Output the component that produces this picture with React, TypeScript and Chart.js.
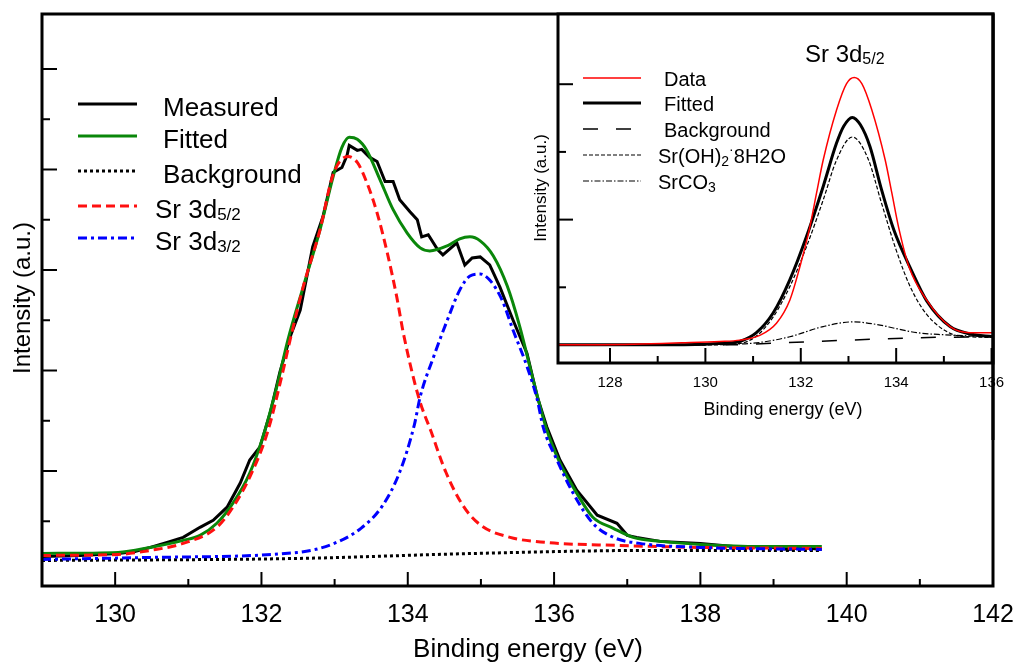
import React, { useEffect, useRef } from "react";
import { Chart, registerables } from "chart.js";

Chart.register(...registerables);

const FONT = "'Liberation Sans', Arial, sans-serif";

// ---------------- Main chart data (binding energy eV, intensity a.u.) ----------------
const measuredE = [129.0, 129.52, 130.04, 130.27, 130.48, 130.71, 130.93, 131.16, 131.34, 131.53, 131.71, 131.84, 131.98, 132.12, 132.25, 132.39, 132.53, 132.70, 132.84, 132.98, 133.10, 133.17, 133.20, 133.31, 133.37, 133.48, 133.58, 133.69, 133.80, 133.89, 134.03, 134.13, 134.19, 134.28, 134.41, 134.48, 134.67, 134.78, 134.88, 134.99, 135.12, 135.26, 135.44, 135.63, 135.77, 135.90, 136.08, 136.31, 136.59, 136.86, 137.00, 137.13, 137.45, 138.00, 138.30, 138.60, 138.90, 139.20, 139.40, 139.66];
const measuredI = [-0.85, -0.84, -0.82, -0.80, -0.76, -0.71, -0.66, -0.56, -0.49, -0.36, -0.12, 0.11, 0.24, 0.58, 0.98, 1.33, 1.60, 2.23, 2.53, 2.97, 3.02, 3.14, 3.24, 3.19, 3.20, 3.12, 3.08, 2.88, 2.88, 2.70, 2.58, 2.50, 2.33, 2.35, 2.20, 2.15, 2.27, 2.05, 2.12, 2.13, 2.05, 1.83, 1.50, 1.17, 0.74, 0.44, 0.11, -0.19, -0.44, -0.52, -0.64, -0.66, -0.70, -0.72, -0.74, -0.76, -0.75, -0.78, -0.76, -0.78];

const fittedE = [129.0, 130.04, 130.48, 130.93, 131.16, 131.39, 131.61, 131.84, 132.02, 132.21, 132.36, 132.57, 132.80, 132.98, 133.10, 133.20, 133.31, 133.44, 133.62, 133.80, 133.99, 134.17, 134.30, 134.54, 134.71, 134.85, 134.99, 135.17, 135.36, 135.53, 135.71, 135.90, 136.08, 136.31, 136.53, 136.81, 137.08, 137.45, 138.00, 138.82, 139.66];
const fittedI = [-0.82, -0.81, -0.76, -0.69, -0.64, -0.52, -0.32, -0.02, 0.34, 0.84, 1.30, 1.83, 2.40, 2.93, 3.22, 3.32, 3.30, 3.19, 2.90, 2.60, 2.37, 2.22, 2.19, 2.24, 2.31, 2.33, 2.29, 2.14, 1.84, 1.44, 0.92, 0.41, 0.08, -0.22, -0.46, -0.57, -0.66, -0.70, -0.73, -0.75, -0.75];

const sr52E = [129.0, 130.04, 130.48, 130.93, 131.39, 131.61, 131.84, 132.08, 132.29, 132.39, 132.57, 132.80, 132.98, 133.18, 133.31, 133.44, 133.58, 133.72, 133.85, 133.94, 134.15, 134.32, 134.52, 134.76, 135.00, 135.40, 135.88, 136.85, 138.00, 139.66];
const sr52I = [-0.84, -0.83, -0.79, -0.72, -0.56, -0.36, -0.06, 0.38, 0.98, 1.30, 1.83, 2.40, 2.95, 3.13, 3.07, 2.87, 2.57, 2.17, 1.73, 1.37, 0.73, 0.39, -0.01, -0.35, -0.54, -0.66, -0.71, -0.74, -0.76, -0.77];

const sr32E = [129.0, 130.48, 132.49, 132.96, 133.36, 133.65, 133.89, 134.09, 134.17, 134.35, 134.54, 134.71, 134.85, 134.99, 135.12, 135.29, 135.44, 135.63, 135.77, 135.85, 136.04, 136.26, 136.53, 136.81, 137.17, 138.00, 139.66];
const sr32I = [-0.88, -0.86, -0.81, -0.73, -0.57, -0.35, -0.01, 0.46, 0.74, 1.13, 1.50, 1.80, 1.94, 1.96, 1.90, 1.70, 1.40, 1.04, 0.71, 0.44, 0.11, -0.22, -0.52, -0.66, -0.72, -0.76, -0.78];

const backgroundE = [129.0, 132.49, 134.91, 137.33, 139.66];
const backgroundI = [-0.89, -0.87, -0.82, -0.79, -0.79];

const mainXMajor = [130, 132, 134, 136, 138, 140, 142];
const mainXMinor = [129, 131, 133, 135, 137, 139, 141];
const mainYMajor = [0, 1, 2, 3, 4];
const mainYMinor = [-0.5, 0.5, 1.5, 2.5, 3.5];

const mainLegendText = ["Measured", "Fitted", "Background", "Sr 3d", "Sr 3d"];
const mainLegendSub = ["", "", "", "5/2", "3/2"];

// ---------------- Inset data ----------------
const insetDataE = [126.91, 128.5, 129.5, 130.3, 130.72, 131.14, 131.49, 131.77, 131.98, 132.19, 132.33, 132.47, 132.75, 132.96, 133.12, 133.28, 133.49, 133.77, 133.91, 134.05, 134.27, 134.64, 135.13, 135.55, 136.03];
const insetDataI = [0.15, 0.16, 0.18, 0.20, 0.22, 0.29, 0.47, 0.81, 1.30, 1.89, 2.39, 2.88, 3.62, 4.01, 4.10, 4.01, 3.62, 2.88, 2.39, 1.89, 1.30, 0.81, 0.42, 0.33, 0.33];

const insetFitE = [126.91, 129.0, 130.0, 130.5, 130.72, 131.07, 131.42, 131.77, 132.12, 132.47, 132.75, 132.9, 133.08, 133.25, 133.45, 133.69, 133.95, 134.32, 134.64, 135.13, 135.55, 136.03];
const insetFitI = [0.15, 0.15, 0.16, 0.18, 0.20, 0.33, 0.62, 1.11, 1.75, 2.49, 3.13, 3.38, 3.51, 3.40, 3.08, 2.45, 1.85, 1.25, 0.80, 0.42, 0.31, 0.27];

const insetOHE = [126.91, 130.0, 130.72, 131.07, 131.42, 131.77, 132.12, 132.47, 132.75, 133.08, 133.41, 133.69, 134.0, 134.3, 134.64, 135.13, 135.55, 136.03];
const insetOHI = [0.15, 0.15, 0.17, 0.28, 0.56, 1.01, 1.60, 2.29, 2.88, 3.22, 2.90, 2.25, 1.55, 1.00, 0.60, 0.32, 0.27, 0.26];

const insetCO3E = [126.91, 130.3, 131.07, 131.77, 132.47, 133.1, 133.6, 134.0, 134.43, 134.98, 136.03];
const insetCO3I = [0.15, 0.16, 0.18, 0.27, 0.42, 0.49, 0.45, 0.39, 0.33, 0.30, 0.27];

const insetBgE = [126.91, 130.5, 130.93, 131.63, 133.03, 134.43, 136.03];
const insetBgI = [0.15, 0.15, 0.16, 0.18, 0.22, 0.255, 0.27];

const insetXMajor = [128, 130, 132, 134, 136];
const insetXMinor = [129, 131, 133, 135];
const insetYMajor = [2, 4];
const insetYMinor = [1, 3];

const pts = (xs: number[], ys: number[]) => xs.map((x, i) => ({ x, y: ys[i] }));

type Seg = { t: string; size: number; dy?: number };
function drawSegs(ctx: CanvasRenderingContext2D, x: number, y: number, segs: Seg[]) {
  let cx = x;
  ctx.textAlign = "left";
  ctx.textBaseline = "alphabetic";
  for (const s of segs) {
    ctx.font = `${s.size}px ${FONT}`;
    ctx.fillText(s.t, cx, y + (s.dy || 0));
    cx += ctx.measureText(s.t).width;
  }
}

function seg(ctx: CanvasRenderingContext2D, x1: number, y1: number, x2: number, y2: number) {
  ctx.beginPath();
  ctx.moveTo(x1, y1);
  ctx.lineTo(x2, y2);
  ctx.stroke();
}

const mainStyles = [
  { color: "#000000", dash: [] as number[], width: 3 },
  { color: "#0a870a", dash: [] as number[], width: 3 },
  { color: "#000000", dash: [3, 3], width: 3 },
  { color: "#ff1010", dash: [9, 5], width: 3 },
  { color: "#0000ff", dash: [9, 4, 3, 4], width: 3 },
];

const insetStyles = [
  { color: "#ff0000", dash: [] as number[], width: 1.5 },
  { color: "#000000", dash: [] as number[], width: 3 },
  { color: "#000000", dash: [15, 18], width: 1.5 },
  { color: "#000000", dash: [4, 2], width: 1.2 },
  { color: "#000000", dash: [6, 2, 1.5, 2], width: 1.2 },
];

const mainDecor = {
  id: "mainDecor",
  afterDraw(chart: any) {
    const { ctx, chartArea: a, scales } = chart;
    const x = scales.x, y = scales.y;
    ctx.save();
    ctx.strokeStyle = "#000";
    ctx.setLineDash([]);
    ctx.lineWidth = 2;
    for (const t of mainXMajor) { const p = x.getPixelForValue(t); seg(ctx, p, a.bottom, p, a.bottom - 14); }
    for (const t of mainXMinor) { const p = x.getPixelForValue(t); seg(ctx, p, a.bottom, p, a.bottom - 7); }
    for (const t of mainYMajor) { const p = y.getPixelForValue(t); seg(ctx, a.left, p, a.left + 15, p); }
    for (const t of mainYMinor) { const p = y.getPixelForValue(t); seg(ctx, a.left, p, a.left + 8, p); }
    ctx.lineWidth = 3;
    ctx.strokeRect(a.left, a.top, a.right - a.left, a.bottom - a.top);

    ctx.fillStyle = "#000";
    ctx.font = `25px ${FONT}`;
    ctx.textAlign = "center";
    ctx.textBaseline = "middle";
    for (const t of mainXMajor) ctx.fillText(String(t), x.getPixelForValue(t), 615);
    ctx.font = `26px ${FONT}`;
    ctx.fillText("Binding energy (eV)", 528, 650);
    ctx.save();
    ctx.translate(23, 298);
    ctx.rotate(-Math.PI / 2);
    ctx.font = `24px ${FONT}`;
    ctx.fillText("Intensity (a.u.)", 0, 0);
    ctx.restore();

    // legend
    const baselines = [116, 148, 183, 218, 250];
    mainLegendText.forEach((txt, i) => {
      const st = mainStyles[i];
      const ly = baselines[i] - 12;
      ctx.strokeStyle = st.color;
      ctx.lineWidth = st.width;
      ctx.setLineDash(st.dash);
      seg(ctx, 78, ly, 137, ly);
      ctx.setLineDash([]);
      ctx.fillStyle = "#000";
      const segs: Seg[] = [{ t: txt, size: 26 }];
      if (mainLegendSub[i]) segs.push({ t: mainLegendSub[i], size: 17, dy: 2 });
      drawSegs(ctx, mainLegendSub[i] ? 155 : 163, baselines[i], segs);
    });
    ctx.restore();
  },
};

const insetLegendRows: Seg[][] = [
  [{ t: "Data", size: 20 }],
  [{ t: "Fitted", size: 20 }],
  [{ t: "Background", size: 20 }],
  [{ t: "Sr(OH)", size: 20 }, { t: "2", size: 14, dy: 3 }, { t: "·", size: 14, dy: -9 }, { t: "8H2O", size: 20 }],
  [{ t: "SrCO", size: 20 }, { t: "3", size: 14, dy: 3 }],
];

const insetDecor = {
  id: "insetDecor",
  beforeDraw(chart: any) {
    const { ctx, chartArea: a } = chart;
    ctx.save();
    ctx.fillStyle = "#fff";
    ctx.fillRect(a.left, a.top, a.right - a.left, a.bottom - a.top);
    ctx.restore();
  },
  afterDraw(chart: any) {
    const { ctx, chartArea: a, scales } = chart;
    const x = scales.x, y = scales.y;
    ctx.save();
    ctx.strokeStyle = "#000";
    ctx.setLineDash([]);
    ctx.lineWidth = 2;
    for (const t of insetXMajor) { const p = x.getPixelForValue(t); seg(ctx, p, a.bottom, p, a.bottom - 15); }
    for (const t of insetXMinor) { const p = x.getPixelForValue(t); seg(ctx, p, a.bottom, p, a.bottom - 7); }
    for (const t of insetYMajor) { const p = y.getPixelForValue(t); seg(ctx, a.left, p, a.left + 15, p); }
    for (const t of insetYMinor) { const p = y.getPixelForValue(t); seg(ctx, a.left, p, a.left + 8, p); }

    ctx.fillStyle = "#000";
    ctx.font = `15px ${FONT}`;
    ctx.textAlign = "center";
    ctx.textBaseline = "middle";
    for (const t of insetXMajor) ctx.fillText(String(t), x.getPixelForValue(t), 383);
    ctx.font = `18px ${FONT}`;
    ctx.fillText("Binding energy (eV)", 283, 410);
    ctx.save();
    ctx.translate(41, 188);
    ctx.rotate(-Math.PI / 2);
    ctx.font = `17px ${FONT}`;
    ctx.fillText("Intensity (a.u.)", 0, 0);
    ctx.restore();

    ctx.lineWidth = 3;
    ctx.strokeRect(a.left, a.top, a.right - a.left, a.bottom - a.top);
    seg(ctx, a.right, a.top, a.right, chart.height);

    // title
    ctx.fillStyle = "#000";
    drawSegs(ctx, 305, 62, [{ t: "Sr 3d", size: 24 }, { t: "5/2", size: 16, dy: 2 }]);

    // legend
    const baselines = [86, 111, 137, 163, 189];
    insetLegendRows.forEach((row, i) => {
      const st = insetStyles[i];
      const ly = baselines[i] - 8;
      ctx.strokeStyle = st.color;
      ctx.lineWidth = st.width;
      ctx.setLineDash(st.dash);
      seg(ctx, 83, ly, 141, ly);
      ctx.setLineDash([]);
      ctx.fillStyle = "#000";
      drawSegs(ctx, i < 3 ? 164 : 158, baselines[i], row);
    });
    ctx.restore();
  },
};

function ds(label: string, data: any[], st: any, order: number, smooth: boolean) {
  return {
    label,
    data,
    borderColor: st.color,
    backgroundColor: st.color,
    borderWidth: st.width,
    borderDash: st.dash,
    borderCapStyle: "butt",
    pointRadius: 0,
    fill: false,
    tension: 0,
    cubicInterpolationMode: smooth ? "monotone" : "default",
    order,
  };
}

export default function App() {
  const mainRef = useRef<HTMLCanvasElement>(null);
  const insetRef = useRef<HTMLCanvasElement>(null);

  useEffect(() => {
    const main = new Chart(mainRef.current as HTMLCanvasElement, {
      type: "line",
      data: {
        datasets: [
          ds("Measured", pts(measuredE, measuredI), mainStyles[0], 4, false),
          ds("Fitted", pts(fittedE, fittedI), mainStyles[1], 3, true),
          ds("Background", pts(backgroundE, backgroundI), mainStyles[2], 2, true),
          ds("Sr 3d5/2", pts(sr52E, sr52I), mainStyles[3], 1, true),
          ds("Sr 3d3/2", pts(sr32E, sr32I), mainStyles[4], 0, true),
        ] as any,
      },
      options: {
        animation: false,
        responsive: false,
        devicePixelRatio: 1,
        events: [],
        layout: { padding: { left: 42, top: 14, right: 20, bottom: 77 } },
        plugins: { legend: { display: false }, tooltip: { enabled: false }, title: { display: false } },
        scales: {
          x: { type: "linear", min: 129, max: 142, display: false },
          y: { type: "linear", min: -1.144, max: 4.547, display: false },
        },
      },
      plugins: [mainDecor],
    } as any);

    const inset = new Chart(insetRef.current as HTMLCanvasElement, {
      type: "line",
      data: {
        datasets: [
          ds("Data", pts(insetDataE, insetDataI), insetStyles[0], 0, true),
          ds("Fitted", pts(insetFitE, insetFitI), insetStyles[1], 1, true),
          ds("Background", pts(insetBgE, insetBgI), insetStyles[2], 4, true),
          ds("Sr(OH)2·8H2O", pts(insetOHE, insetOHI), insetStyles[3], 2, true),
          ds("SrCO3", pts(insetCO3E, insetCO3I), insetStyles[4], 3, true),
        ] as any,
      },
      options: {
        animation: false,
        responsive: false,
        devicePixelRatio: 1,
        events: [],
        layout: { padding: { left: 58, top: 14, right: 20, bottom: 77 } },
        plugins: { legend: { display: false }, tooltip: { enabled: false }, title: { display: false } },
        scales: {
          x: { type: "linear", min: 126.91, max: 136.03, display: false },
          y: { type: "linear", min: -0.118, max: 5.037, display: false },
        },
      },
      plugins: [insetDecor],
    } as any);

    return () => {
      main.destroy();
      inset.destroy();
    };
  }, []);

  return (
    <div style={{ position: "absolute", left: 0, top: 0, width: 1013, height: 663, background: "#fff" }}>
      <canvas ref={mainRef} width={1013} height={663} style={{ position: "absolute", left: 0, top: 0 }} />
      <canvas ref={insetRef} width={513} height={440} style={{ position: "absolute", left: 500, top: 0 }} />
    </div>
  );
}
